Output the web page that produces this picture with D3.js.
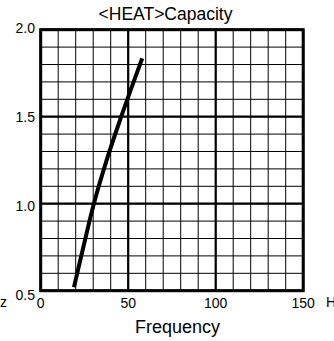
<!DOCTYPE html>
<html>
<head>
<meta charset="utf-8">
<script src="https://cdn.jsdelivr.net/npm/d3@7"></script>
<style>
  html, body { margin: 0; padding: 0; background: #fff; }
  svg { display: block; }
  text { font-family: "Liberation Sans", Arial, sans-serif; fill: #000; }
</style>
</head>
<body>
<script>
// Heating capacity vs. frequency
const freq = [19, 24, 30, 38, 46, 52, 58];
const capacity = [0.52, 0.735, 0.985, 1.26, 1.50, 1.67, 1.835];

const xTicks = [0, 50, 100, 150];
const yTicks = [0.5, 1.0, 1.5, 2.0];
const xMinor = d3.range(0, 151, 10);
const yMinor = d3.range(5, 21, 1).map(v => v / 10);

const titleText = "<HEAT>Capacity";
const xTitle = "Frequency";
const unitText = "Hz";

const W = 334, H = 341;
const plot = { left: 40.7, right: 303.2, top: 29.7, bottom: 290.7 };

const x = d3.scaleLinear().domain([0, 150]).range([plot.left, plot.right]);
const y = d3.scaleLinear().domain([0.5, 2.0]).range([plot.bottom, plot.top]);
// tick labels sit slightly below their gridlines
const yLabel = d3.scaleLinear().domain([0.5, 2.0]).range([plot.bottom + 4, plot.top - 1.5]);

const svg = d3.select("body").append("svg")
  .attr("width", W).attr("height", H);

// minor grid
const grid = svg.append("g");
grid.selectAll("line.vx").data(xMinor).join("line")
  .attr("x1", d => x(d)).attr("x2", d => x(d))
  .attr("y1", plot.top).attr("y2", plot.bottom)
  .attr("stroke", "#000").attr("stroke-width", 1);
grid.selectAll("line.hy").data(yMinor).join("line")
  .attr("y1", d => y(d)).attr("y2", d => y(d))
  .attr("x1", plot.left).attr("x2", plot.right)
  .attr("stroke", "#000").attr("stroke-width", 1);

// major grid
grid.selectAll("line.mx").data(xTicks).join("line")
  .attr("x1", d => x(d)).attr("x2", d => x(d))
  .attr("y1", plot.top).attr("y2", plot.bottom)
  .attr("stroke", "#000").attr("stroke-width", 2.2);
grid.selectAll("line.my").data(yTicks).join("line")
  .attr("y1", d => y(d)).attr("y2", d => y(d))
  .attr("x1", plot.left).attr("x2", plot.right)
  .attr("stroke", "#000").attr("stroke-width", 2.2);

// frame
svg.append("rect")
  .attr("x", plot.left).attr("y", plot.top)
  .attr("width", plot.right - plot.left).attr("height", plot.bottom - plot.top)
  .attr("fill", "none").attr("stroke", "#000").attr("stroke-width", 3);

// capacity curve
const line = d3.line()
  .x((d, i) => x(freq[i]))
  .y(d => y(d))
  .curve(d3.curveMonotoneX);
svg.append("path")
  .datum(capacity)
  .attr("d", line)
  .attr("fill", "none")
  .attr("stroke", "#000")
  .attr("stroke-width", 4)
  .attr("stroke-linecap", "butt");

// y tick labels
svg.append("g").selectAll("text").data(yTicks).join("text")
  .attr("x", 35)
  .attr("y", d => yLabel(d))
  .attr("dy", "0.35em")
  .attr("text-anchor", "end")
  .attr("font-size", 14)
  .text(d => d3.format(".1f")(d));

// x tick labels
svg.append("g").selectAll("text").data(xTicks).join("text")
  .attr("x", d => x(d))
  .attr("y", 308)
  .attr("text-anchor", "middle")
  .attr("font-size", 14)
  .text(d => d);

// unit labels at both ends of the axis row
svg.append("text").attr("x", 326).attr("y", 307)
  .attr("font-size", 14).text(unitText);
svg.append("text").attr("x", 7).attr("y", 307)
  .attr("text-anchor", "end")
  .attr("font-size", 14).text(unitText);

// titles
svg.append("text").attr("x", 165.5).attr("y", 20)
  .attr("text-anchor", "middle").attr("font-size", 17.5)
  .text(titleText);
svg.append("text").attr("x", 177.5).attr("y", 333)
  .attr("text-anchor", "middle").attr("font-size", 18)
  .text(xTitle);
</script>
</body>
</html>
